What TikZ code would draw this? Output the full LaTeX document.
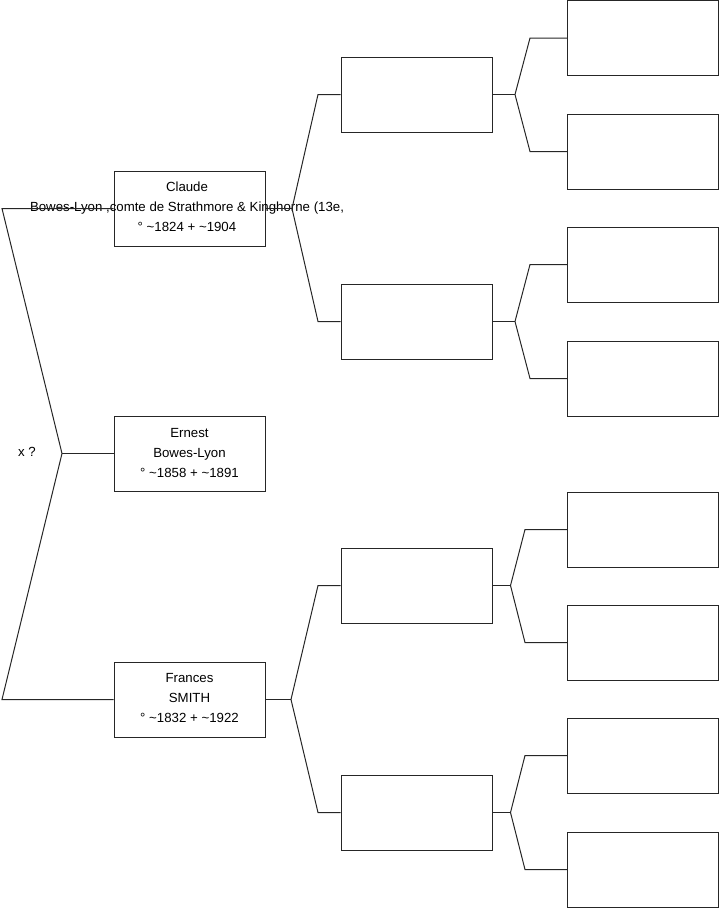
\documentclass[tikz,border=0pt]{standalone}
\usepackage{fontspec}
\setmainfont{Liberation Sans}
\begin{document}
\begin{tikzpicture}[x=1pt,y=-1pt,
  pbox/.style={draw=black!85,line width=1pt,minimum width=151pt,minimum height=75pt,inner sep=0pt},
  ptext/.style={align=center,inner sep=0pt,font=\fontsize{13.25pt}{20pt}\selectfont},
  conn/.style={draw=black!85,line width=1pt}]
\useasboundingbox (0,0) rectangle (719,908);
% generation 1
\node[pbox] (p1) at (189.5,208.5) {};
\node[pbox] (p2) at (189.5,453.5) {};
\node[pbox] (p3) at (189.5,699.5) {};
\node[ptext] (t1) at (187,207) {Claude\\Bowes-Lyon ,comte de Strathmore \& Kinghorne (13e,\\° \textasciitilde1824 + \textasciitilde1904};
\node[ptext] (t2) at (189.5,453) {Ernest\\Bowes-Lyon\\° \textasciitilde1858 + \textasciitilde1891};
\node[ptext] (t3) at (189.5,698) {Frances\\SMITH\\° \textasciitilde1832 + \textasciitilde1922};
\node[ptext,anchor=west] (x) at (18,452) {x ?};
% generation 2
\node[pbox] (q1) at (416.5,94.5) {};
\node[pbox] (q2) at (416.5,321.5) {};
\node[pbox] (q3) at (416.5,585.5) {};
\node[pbox] (q4) at (416.5,812.5) {};
% generation 3
\node[pbox] (r1) at (643,38) {};
\node[pbox] (r2) at (643,151.5) {};
\node[pbox] (r3) at (643,264.5) {};
\node[pbox] (r4) at (643,378.5) {};
\node[pbox] (r5) at (643,529.5) {};
\node[pbox] (r6) at (643,642.5) {};
\node[pbox] (r7) at (643,755.5) {};
\node[pbox] (r8) at (643,869.5) {};
% left fork
\coordinate (f0) at (62,453.5);
\coordinate (a1) at (2,208.5);
\coordinate (a3) at (2,699.5);
\draw[conn] (p1.west) -- (a1) -- (f0) -- (a3) -- (p3.west);
\draw[conn] (f0) -- (p2.west);
% forks gen1 -> gen2
\coordinate (f1) at (292,208.5);
\coordinate (b1) at (318,94.5);
\coordinate (b2) at (318,321.5);
\draw[conn] (p1.east) -- (f1);
\draw[conn] (q1.west) -- (b1) -- (f1) -- (b2) -- (q2.west);
\coordinate (f3) at (291,699.5);
\coordinate (b3) at (318,585.5);
\coordinate (b4) at (318,812.5);
\draw[conn] (p3.east) -- (f3);
\draw[conn] (q3.west) -- (b3) -- (f3) -- (b4) -- (q4.west);
% forks gen2 -> gen3
\coordinate (g1) at (515,94.5);
\coordinate (c1) at (530,38);
\coordinate (c2) at (530,151.5);
\draw[conn] (q1.east) -- (g1);
\draw[conn] (r1.west) -- (c1) -- (g1) -- (c2) -- (r2.west);
\coordinate (g2) at (515,321.5);
\coordinate (c3) at (530,264.5);
\coordinate (c4) at (530,378.5);
\draw[conn] (q2.east) -- (g2);
\draw[conn] (r3.west) -- (c3) -- (g2) -- (c4) -- (r4.west);
\coordinate (g3) at (510.5,585.5);
\coordinate (c5) at (525,529.5);
\coordinate (c6) at (525,642.5);
\draw[conn] (q3.east) -- (g3);
\draw[conn] (r5.west) -- (c5) -- (g3) -- (c6) -- (r6.west);
\coordinate (g4) at (510.5,812.5);
\coordinate (c7) at (525,755.5);
\coordinate (c8) at (525,869.5);
\draw[conn] (q4.east) -- (g4);
\draw[conn] (r7.west) -- (c7) -- (g4) -- (c8) -- (r8.west);
\end{tikzpicture}
\end{document}
